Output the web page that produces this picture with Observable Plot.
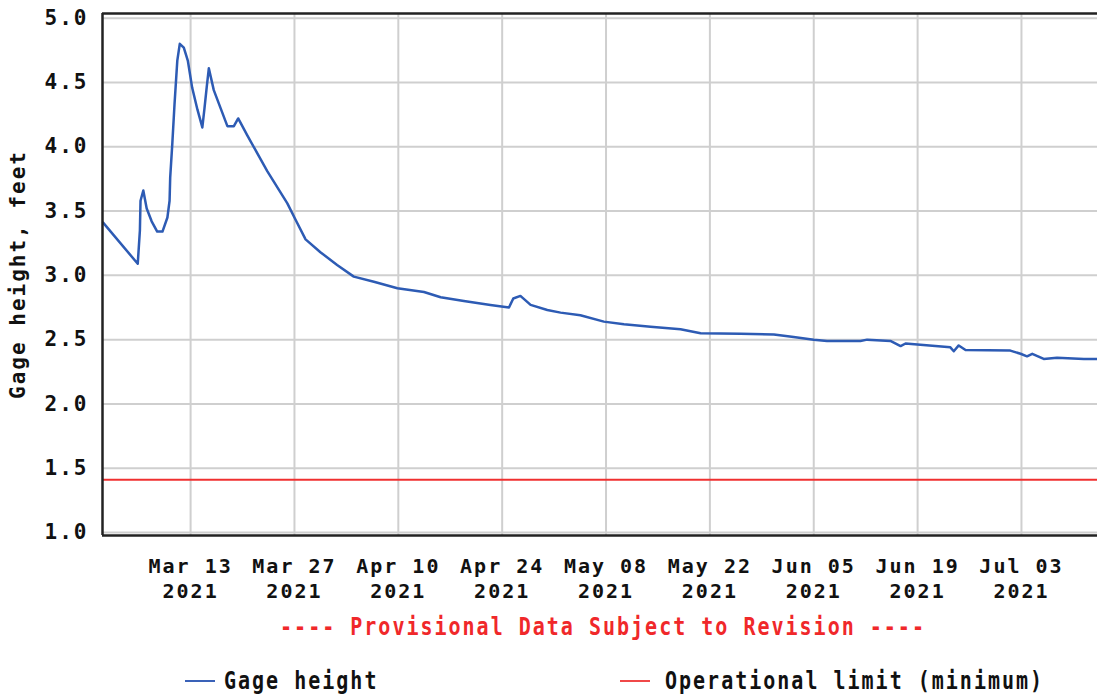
<!DOCTYPE html>
<html>
<head>
<meta charset="utf-8">
<script src="https://cdn.jsdelivr.net/npm/d3@7"></script>
<script src="https://cdn.jsdelivr.net/npm/@observablehq/plot@0.6"></script>
<style>
  html, body { margin: 0; padding: 0; background: #fff; }
  #wrap { position: relative; width: 1097px; height: 696px; overflow: hidden; }
  #chart svg text { letter-spacing: 2px; }
  .cap { position: absolute; font-family: "DejaVu Sans Mono", monospace; font-size: 20px; letter-spacing: 2px; white-space: nowrap; transform: scaleY(1.25); transform-origin: 50% 50%; }
  #prov { left: 0; width: 1206px; top: 614px; text-align: center; color: #f0282a; font-weight: 600; }
  .leg { top: 668px; color: #111; font-weight: 600; }
  .sw { position: absolute; height: 2px; top: 680px; }
</style>
</head>
<body>
<div id="wrap">
  <div id="chart"></div>
  <div id="prov" class="cap">---- Provisional Data Subject to Revision ----</div>
  <div class="sw" style="left:185px;width:30px;background:#3a62b8"></div>
  <div class="cap leg" style="left:224px">Gage height</div>
  <div class="sw" style="left:620px;width:30px;background:#f04848"></div>
  <div class="cap leg" style="left:665px">Operational limit (minimum)</div>
</div>
<script>
const dates = [
  "2021-03-01T05:00","2021-03-05T21:00","2021-03-06T04:00","2021-03-06T06:00","2021-03-06T15:00",
  "2021-03-07T02:00","2021-03-07T18:00","2021-03-08T12:00","2021-03-09T05:00","2021-03-09T21:00",
  "2021-03-10T04:00","2021-03-10T06:00","2021-03-10T13:00","2021-03-10T20:00","2021-03-11T05:00",
  "2021-03-11T13:00","2021-03-12T02:00","2021-03-12T15:00","2021-03-13T05:00","2021-03-13T22:00",
  "2021-03-14T14:00","2021-03-14T21:00","2021-03-15T04:00","2021-03-15T11:00","2021-03-16T03:00",
  "2021-03-17T01:00","2021-03-17T23:00","2021-03-18T20:00","2021-03-19T10:00","2021-03-20T15:00",
  "2021-03-23T08:00","2021-03-26T01:00","2021-03-27T04:00","2021-03-28T12:00","2021-03-30T12:00",
  "2021-04-01T18:00","2021-04-04T00:00","2021-04-06T17:00","2021-04-09T21:00","2021-04-13T11:00",
  "2021-04-15T17:00","2021-04-18T20:00","2021-04-22T10:00","2021-04-24T22:00","2021-04-25T12:00",
  "2021-04-26T11:00","2021-04-27T20:00","2021-04-30T02:00","2021-05-01T21:00","2021-05-04T13:00",
  "2021-05-07T17:00","2021-05-10T10:00","2021-05-14T00:00","2021-05-18T01:00","2021-05-20T18:00",
  "2021-05-26T03:00","2021-05-30T15:00","2021-06-02T07:00","2021-06-05T00:00","2021-06-06T19:00",
  "2021-06-11T07:00","2021-06-12T05:00","2021-06-15T08:00","2021-06-16T17:00","2021-06-17T09:00",
  "2021-06-19T09:00","2021-06-23T10:00","2021-06-23T21:00","2021-06-24T13:00","2021-06-25T11:00",
  "2021-07-01T12:00","2021-07-02T21:00","2021-07-03T18:00","2021-07-04T11:00","2021-07-06T00:00",
  "2021-07-07T19:00","2021-07-11T10:00","2021-07-13T06:00"
];
const heights = [
  3.41,3.09,3.35,3.58,3.66,
  3.52,3.42,3.34,3.34,3.45,
  3.58,3.76,4.03,4.33,4.67,
  4.80,4.77,4.67,4.46,4.29,
  4.15,4.30,4.46,4.61,4.44,
  4.30,4.16,4.16,4.22,4.09,
  3.81,3.56,3.43,3.28,3.18,
  3.08,2.99,2.95,2.90,2.87,
  2.83,2.80,2.77,2.75,2.82,
  2.84,2.77,2.73,2.71,2.69,
  2.64,2.62,2.60,2.58,2.55,
  2.545,2.54,2.52,2.50,2.49,
  2.49,2.50,2.49,2.45,2.47,
  2.46,2.44,2.41,2.455,2.42,
  2.415,2.39,2.37,2.39,2.35,
  2.36,2.35,2.35
];
const operationalLimit = 1.41;
const xTickDates = ["2021-03-13","2021-03-27","2021-04-10","2021-04-24","2021-05-08","2021-05-22","2021-06-05","2021-06-19","2021-07-03"];
const yTicks = [1.0,1.5,2.0,2.5,3.0,3.5,4.0,4.5,5.0];
const xDomain = ["2021-03-01T03:00","2021-07-13T06:00"];
const yDomain = [0.977, 5.036];

const parse = s => new Date(s + (s.length === 10 ? "T00:00Z" : "Z"));
const data = dates.map((d, i) => ({date: parse(d), value: heights[i]}));
const xt = xTickDates.map(parse);
const xd = xDomain.map(parse);
const fmt = d3.utcFormat("%b %d\n%Y");
const font = "DejaVu Sans Mono, monospace";

const chart = Plot.plot({
  width: 1097,
  height: 610,
  marginLeft: 102,
  marginRight: 0,
  marginTop: 13,
  marginBottom: 75,
  style: {fontFamily: font, background: "#fff", overflow: "visible"},
  x: {type: "utc", domain: xd},
  y: {domain: yDomain},
  marks: [
    Plot.gridX(xt, {stroke: "#cfcfcf", strokeOpacity: 1, strokeWidth: 2}),
    Plot.gridY(yTicks, {stroke: "#cfcfcf", strokeOpacity: 1, strokeWidth: 2}),
    Plot.ruleY([operationalLimit], {stroke: "#f03030", strokeWidth: 2}),
    Plot.line(data, {x: "date", y: "value", stroke: "#2d5bb4", strokeWidth: 2.5}),
    Plot.ruleY([yDomain[0]], {stroke: "#222", strokeWidth: 2.5}),
    Plot.ruleY([yDomain[1]], {stroke: "#222", strokeWidth: 2.5}),
    Plot.ruleX([xd[0]], {stroke: "#222", strokeWidth: 2.5}),
    Plot.axisX(xt, {tickSize: 0, tickPadding: 20, tickFormat: fmt, fontSize: 20, fontWeight: "bold", lineHeight: 1.25, fill: "#111"}),
    Plot.axisY(yTicks, {tickSize: 0, tickPadding: 14, tickFormat: d => d.toFixed(1), fontSize: 21, fontWeight: "bold", fill: "#111",
      label: "Gage height, feet", labelAnchor: "center", labelArrow: "none", labelOffset: 92})
  ]
});
document.getElementById("chart").appendChild(chart);
</script>
</body>
</html>
